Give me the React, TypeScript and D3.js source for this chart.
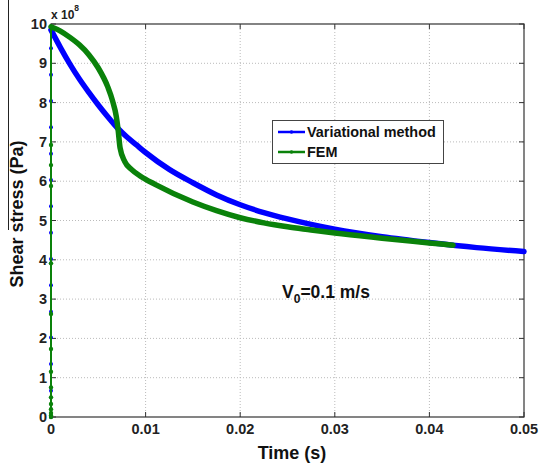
import React from "react";
import * as d3 from "d3";

const xTicks = [0, 0.01, 0.02, 0.03, 0.04, 0.05];
const xTickLabels = ["0", "0.01", "0.02", "0.03", "0.04", "0.05"];
const yTicks = [0, 1, 2, 3, 4, 5, 6, 7, 8, 9, 10];
const yTickLabels = ["0", "1", "2", "3", "4", "5", "6", "7", "8", "9", "10"];

// Variational method (x 1e8 Pa)
const varRise = [0, 0.67, 1.35, 2.02, 2.68, 3.35, 4.02, 4.69, 5.36, 6.03, 6.7, 7.37, 8.04, 8.71, 9.38];
const varTime = [0, 0.001, 0.002, 0.003, 0.004, 0.005, 0.006, 0.007, 0.008, 0.009, 0.01, 0.0125, 0.015, 0.0175, 0.02, 0.0225, 0.025, 0.0275, 0.03, 0.035, 0.04, 0.045, 0.05];
const varStress = [9.85, 9.4, 8.98, 8.6, 8.26, 7.94, 7.64, 7.36, 7.13, 6.93, 6.73, 6.3, 5.96, 5.65, 5.4, 5.2, 5.04, 4.9, 4.78, 4.59, 4.44, 4.31, 4.21];

// FEM
const femRise = [0, 0.04, 0.1, 0.2, 0.33, 0.5, 0.75, 1.15, 1.73, 2.62, 3.91, 5.88, 6.41, 6.92];
const femTime = [0, 0.001, 0.002, 0.003, 0.004, 0.005, 0.006, 0.0065, 0.0069, 0.0071, 0.0073, 0.0078, 0.0085, 0.0095, 0.011, 0.015, 0.0175, 0.02, 0.0225, 0.025, 0.0275, 0.03, 0.035, 0.04, 0.0425];
const femStress = [9.93, 9.82, 9.66, 9.47, 9.22, 8.88, 8.4, 8.05, 7.65, 7.3, 6.85, 6.5, 6.3, 6.12, 5.92, 5.47, 5.25, 5.07, 4.94, 4.84, 4.76, 4.68, 4.55, 4.43, 4.37];

const BLUE = "#0000ff";
const GREEN = "#0a820a";
const FONT = "'Liberation Sans', Arial, Helvetica, sans-serif";

export default function App() {
  const W = 539, H = 470;
  const x = d3.scaleLinear().domain([0, 0.05]).range([51, 524]);
  const y = d3.scaleLinear().domain([0, 10]).range([417, 24]);
  const x0 = x.range()[0], x1 = x.range()[1];
  const yb = y.range()[0], yt = y.range()[1];

  const line = d3
    .line<[number, number]>()
    .x((d) => x(d[0]))
    .y((d) => y(d[1]))
    .curve(d3.curveMonotoneX);
  const straight = d3
    .line<[number, number]>()
    .x((d) => x(d[0]))
    .y((d) => y(d[1]));

  const varDecay: [number, number][] = varTime.map((t, i) => [t, varStress[i]]);
  const femDecay: [number, number][] = femTime.map((t, i) => [t, femStress[i]]);
  const varRisePts = varRise.map((v) => [0, v]).concat([[0, varStress[0]]]) as [number, number][];
  const femRisePts = femRise.map((v) => [0, v]).concat([[0, femStress[0]]]) as [number, number][];

  const tickLen = 5;

  return (
    <svg
      width={W}
      height={H}
      style={{ position: "absolute", left: 0, top: 0, background: "#fff" }}
      fontFamily={FONT}
    >
      <rect x={0} y={0} width={W} height={H} fill="#fff" />
      {/* crop artifact line at left */}
      <line x1={8.5} x2={8.5} y1={0} y2={230} stroke="#222" strokeWidth={1} />

      {/* grid */}
      {xTicks.slice(1, -1).map((t) => (
        <line key={"gx" + t} x1={x(t)} x2={x(t)} y1={yb} y2={yt} stroke="#bbb" strokeWidth={1} strokeDasharray="1,2" />
      ))}
      {yTicks.slice(1, -1).map((v) => (
        <line key={"gy" + v} x1={x0} x2={x1} y1={y(v)} y2={y(v)} stroke="#bbb" strokeWidth={1} strokeDasharray="1,2" />
      ))}

      {/* frame */}
      <rect x={x0} y={yt} width={x1 - x0} height={yb - yt} fill="none" stroke="#333" strokeWidth={1.2} />
      {xTicks.map((t) => (
        <g key={"tx" + t}>
          <line x1={x(t)} x2={x(t)} y1={yb} y2={yb - tickLen} stroke="#333" />
          <line x1={x(t)} x2={x(t)} y1={yt} y2={yt + tickLen} stroke="#333" />
        </g>
      ))}
      {yTicks.map((v) => (
        <g key={"ty" + v}>
          <line x1={x0} x2={x0 + tickLen} y1={y(v)} y2={y(v)} stroke="#333" />
          <line x1={x1} x2={x1 - tickLen} y1={y(v)} y2={y(v)} stroke="#333" />
        </g>
      ))}

      {/* tick labels */}
      {xTicks.map((t, i) => (
        <text key={"lx" + t} x={x(t)} y={yb + 17} textAnchor="middle" fontSize={14.5} fontWeight="bold" fill="#222">
          {xTickLabels[i]}
        </text>
      ))}
      {yTicks.map((v, i) => (
        <text key={"ly" + v} x={x0 - 4} y={y(v) + 5} textAnchor="end" fontSize={14.5} fontWeight="bold" fill="#222">
          {yTickLabels[i]}
        </text>
      ))}
      <text x={x0} y={19} fontSize={12} fontWeight="bold" fill="#222">
        x 10
        <tspan dy={-8} fontSize={8.5}>8</tspan>
      </text>

      {/* Variational method */}
      <path d={straight(varRisePts) || ""} fill="none" stroke={BLUE} strokeWidth={1.5} />
      {varRise.map((v, i) => (
        <circle key={"vr" + i} cx={x(0)} cy={y(v)} r={2} fill={BLUE} />
      ))}
      <path d={line(varDecay) || ""} fill="none" stroke={BLUE} strokeWidth={5.5} strokeLinecap="round" strokeLinejoin="round" />

      {/* FEM */}
      <path d={straight(femRisePts) || ""} fill="none" stroke={GREEN} strokeWidth={2} />
      {femRise.map((v, i) => (
        <circle key={"fr" + i} cx={x(0)} cy={y(v)} r={2.2} fill={GREEN} />
      ))}
      <path d={line(femDecay) || ""} fill="none" stroke={GREEN} strokeWidth={5.5} strokeLinecap="round" strokeLinejoin="round" />

      {/* legend */}
      <g>
        <rect x={272.5} y={120.5} width={171} height={43} fill="#fff" stroke="#444" strokeWidth={1} />
        <line x1={278} x2={305} y1={132} y2={132} stroke={BLUE} strokeWidth={2.5} />
        <circle cx={291.5} cy={132} r={1.8} fill={BLUE} />
        <text x={307} y={137} fontSize={14.4} fontWeight="bold" fill="#111">Variational method</text>
        <line x1={278} x2={305} y1={152} y2={152} stroke={GREEN} strokeWidth={2.5} />
        <circle cx={291.5} cy={152} r={1.8} fill={GREEN} />
        <text x={307} y={157} fontSize={14.4} fontWeight="bold" fill="#111">FEM</text>
      </g>

      {/* annotation */}
      <text x={282} y={298} fontSize={17.5} fontWeight="bold" fill="#111">
        V<tspan dy={5} fontSize={12}>0</tspan>
        <tspan dy={-5}>=0.1 m/s</tspan>
      </text>

      {/* axis labels */}
      <text x={292} y={459} textAnchor="middle" fontSize={18} fontWeight="bold" fill="#111">Time (s)</text>
      <text transform="translate(23,214) rotate(-90)" textAnchor="middle" fontSize={18} fontWeight="bold" fill="#111">
        Shear stress (Pa)
      </text>
    </svg>
  );
}
